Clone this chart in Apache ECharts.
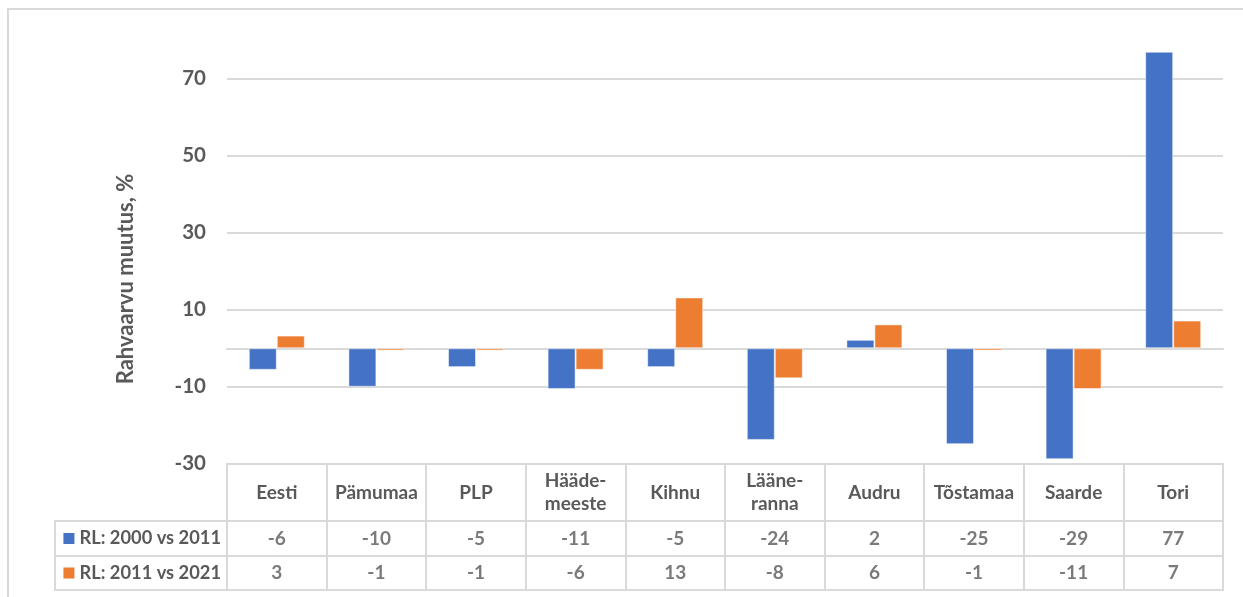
<!DOCTYPE html>
<html>
<head>
<meta charset="utf-8">
<script src="https://cdn.jsdelivr.net/npm/echarts@6/dist/echarts.min.js"></script>
<style>
html,body{margin:0;padding:0;background:#fff;}
#c{width:1243px;height:597px;}
</style>
</head>
<body>
<div id="c"></div>
<script>
// ---- data ----
const categories = ['Eesti', 'Pämumaa', 'PLP', 'Hääde-\nmeeste', 'Kihnu', 'Lääne-\nranna', 'Audru', 'Tõstamaa', 'Saarde', 'Tori'];
const seriesNames = ['RL: 2000 vs 2011', 'RL: 2011 vs 2021'];
const rl2000vs2011 = [-5.6, -10.0, -4.9, -10.6, -4.9, -23.8, 2.2, -24.9, -28.8, 77.0];
const rl2011vs2021 = [3.3, -0.6, -0.6, -5.6, 13.2, -7.8, 6.2, -0.6, -10.6, 7.2];
const yMin = -30, yMax = 80, yInterval = 20;

// ---- styles ----
const BLUE = '#4472C4', ORANGE = '#ED7D31';
const TXT = '#595959', LINE = '#d9d9d9';
const FONT = 'Lato';
const PL = 227, PR = 20;

const chart = echarts.init(document.getElementById('c'));

const rowLabel = (name, color, gi) => ({
  type: 'category', gridIndex: gi, data: [name],
  axisLine: {show: false}, axisTick: {show: false}, splitLine: {show: false},
  axisLabel: {
    margin: 6,
    formatter: '{sq|}{sp|}{t|' + name + '}',
    rich: {
      sq: {width: 11, height: 11, backgroundColor: color},
      sp: {width: 5},
      t: {color: TXT, fontFamily: FONT, fontWeight: 'bold', fontSize: 18.3}
    }
  }
});

const tableX = (gi, showLabel) => ({
  type: 'category', gridIndex: gi, data: categories, boundaryGap: true,
  axisLine: {show: false}, axisTick: {show: false},
  splitLine: {show: true, interval: 0, lineStyle: {color: LINE, width: 2}},
  axisLabel: showLabel ? {
    show: true, inside: true, margin: 28.5, verticalAlign: 'middle', interval: 0,
    color: TXT, fontFamily: FONT, fontWeight: 'bold', fontSize: 19, lineHeight: 23
  } : {show: false}
});

const hiddenValue = (gi) => ({type: 'value', gridIndex: gi, show: false, min: -1, max: 1});

const gridBox = {show: true, borderColor: LINE, borderWidth: 2};

const valueLabels = (vals, xi, yi) => ({
  type: 'scatter', xAxisIndex: xi, yAxisIndex: yi, silent: true,
  symbolSize: 1, itemStyle: {color: 'rgba(0,0,0,0)'},
  data: vals.map((v, i) => [i, 0, v]),
  label: {
    show: true, position: 'inside',
    formatter: p => String(Math.round(p.value[2])),
    color: TXT, fontFamily: FONT, fontWeight: 'bold', fontSize: 19
  }
});

chart.setOption({
  animation: false,
  backgroundColor: '#fff',
  graphic: [{
    type: 'rect', silent: true, z: -10,
    shape: {x: 8, y: 9, width: 1300, height: 700},
    style: {fill: 'none', stroke: LINE, lineWidth: 2}
  }],
  grid: [
    {left: PL, right: PR, top: 40.2, height: 423.6},            // plot
    {left: PL, right: PR, top: 464, height: 57, ...gridBox},     // category row
    {left: PL, right: PR, top: 521, height: 35, ...gridBox},     // row 1 values
    {left: PL, right: PR, top: 556, height: 34, ...gridBox},     // row 2 values
    {left: 55, width: PL - 55, top: 521, height: 35, ...gridBox},// header 1
    {left: 55, width: PL - 55, top: 556, height: 34, ...gridBox} // header 2
  ],
  xAxis: [
    {
      type: 'category', gridIndex: 0, data: categories,
      axisLine: {onZero: true, lineStyle: {color: LINE, width: 2}},
      axisTick: {show: false}, axisLabel: {show: false}
    },
    tableX(1, true),
    tableX(2, false),
    tableX(3, false),
    {type: 'value', gridIndex: 4, show: false},
    {type: 'value', gridIndex: 5, show: false}
  ],
  yAxis: [
    {
      type: 'value', gridIndex: 0, min: yMin, max: yMax, interval: yInterval,
      axisLine: {show: false}, axisTick: {show: false},
      splitLine: {show: true, showMaxLine: false, showMinLine: false, lineStyle: {color: LINE, width: 2}},
      axisLabel: {margin: 21, showMaxLabel: false, color: TXT, fontFamily: FONT, fontWeight: 'bold', fontSize: 20.5},
      name: 'Rahvaarvu muutus, %', nameLocation: 'middle', nameRotate: 90, nameGap: 90,
      nameTextStyle: {color: TXT, fontFamily: FONT, fontWeight: 'bold', fontSize: 22, padding: [0, 54, 0, 0]}
    },
    hiddenValue(1),
    rowLabel(seriesNames[0], BLUE, 2),
    rowLabel(seriesNames[1], ORANGE, 3),
    hiddenValue(4),
    hiddenValue(5)
  ],
  series: [
    {
      name: seriesNames[0], type: 'bar', xAxisIndex: 0, yAxisIndex: 0,
      data: rl2000vs2011, barWidth: 28, barGap: '0%',
      itemStyle: {color: BLUE, borderColor: 'rgba(255,255,255,0.5)', borderWidth: 1}
    },
    {
      name: seriesNames[1], type: 'bar', xAxisIndex: 0, yAxisIndex: 0,
      data: rl2011vs2021, barWidth: 28, barGap: '0%',
      itemStyle: {color: ORANGE, borderColor: 'rgba(255,255,255,0.5)', borderWidth: 1}
    },
    valueLabels(rl2000vs2011, 2, 2),
    valueLabels(rl2011vs2021, 3, 3)
  ]
});
</script>
</body>
</html>
